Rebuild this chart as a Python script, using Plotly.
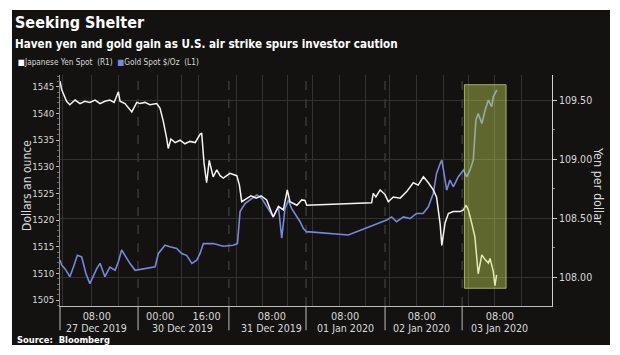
import plotly.graph_objects as go

# ---------------- data (x = trading-session hours from chart start) ----------------
yen_hours = [0.0, 0.5, 2.0, 3.0, 4.6, 6.1, 7.6, 9.1, 10.7, 12.2, 13.7, 15.2, 16.5, 17.8, 18.3,
             19.8, 21.9, 23.4, 24.4, 25.9, 27.4, 29.5, 30.5, 31.5, 32.5, 33.0, 33.8, 35.1, 36.6,
             38.1, 39.6, 41.2, 42.7, 43.2, 43.9, 44.7, 45.5, 46.7, 47.8, 48.8, 49.8, 51.8, 53.9,
             54.7, 55.4, 56.9, 58.2, 59.8, 61.3, 63.0, 65.0, 66.6, 68.1, 69.3, 70.1, 72.2, 73.7,
             74.7, 75.2, 95.0, 95.5, 96.3, 97.6, 99.1, 100.1, 101.6, 103.7, 105.7, 107.7, 109.2,
             110.8, 112.3, 113.8, 114.8, 115.9, 116.4, 117.4, 118.4, 119.9, 122.0, 123.0, 123.8,
             124.5, 125.5, 126.5, 127.5, 128.6, 129.6, 130.6, 131.1, 132.1, 132.6, 133.1]
yen = [109.66, 109.59, 109.49, 109.46, 109.50, 109.47, 109.49, 109.48, 109.50, 109.47, 109.49,
       109.50, 109.48, 109.57, 109.49, 109.47, 109.40, 109.48, 109.47, 109.48, 109.46, 109.47,
       109.43, 109.32, 109.18, 109.09, 109.17, 109.14, 109.16, 109.13, 109.15, 109.14, 109.21,
       109.22, 108.97, 108.80, 108.99, 108.85, 108.91, 108.86, 108.84, 108.88, 108.86, 108.78,
       108.64, 108.67, 108.69, 108.67, 108.69, 108.655, 108.51, 108.60, 108.57, 108.74, 108.64,
       108.61, 108.655, 108.65, 108.61, 108.63, 108.71, 108.68, 108.74, 108.70, 108.64, 108.68,
       108.67, 108.725, 108.80, 108.78, 108.85, 108.80, 108.74, 108.68, 108.45, 108.27, 108.46,
       108.54, 108.556, 108.556, 108.57, 108.61, 108.57, 108.46, 108.34, 108.03, 108.19, 108.15,
       108.12, 108.16, 108.05, 107.93, 108.02]

gold_hours = [0.0, 0.5, 1.5, 3.0, 4.1, 5.3, 6.6, 7.9, 9.1, 10.0, 11.2, 12.2, 13.7, 15.2, 16.8,
              17.8, 18.8, 19.8, 21.3, 22.9, 24.4, 29.0, 30.0, 32.0, 33.5, 35.6, 37.1, 38.6, 40.2,
              41.7, 42.7, 43.7, 45.2, 46.7, 49.8, 52.8, 54.1, 54.9, 56.4, 57.9, 60.0, 61.5, 62.5,
              64.0, 65.0, 66.6, 67.6, 68.6, 69.6, 70.6, 72.2, 73.2, 74.2, 75.2, 76.2, 87.9, 99.6,
              101.1, 102.6, 104.7, 106.7, 108.7, 110.7, 112.3, 113.8, 114.8, 115.9, 116.4, 116.9,
              117.9, 118.9, 119.9, 121.4, 123.0, 124.0, 125.0, 126.0, 126.8, 127.5, 128.6, 129.6,
              130.6, 131.6, 132.1, 133.2]
gold = [1512.5, 1511.6, 1510.9, 1509.4, 1511.2, 1513.4, 1513.1, 1510.0, 1508.1, 1509.4, 1510.9,
        1511.9, 1509.4, 1511.2, 1510.6, 1512.2, 1514.4, 1513.4, 1511.9, 1510.6, 1510.75, 1511.25,
        1513.75, 1515.3, 1515.0, 1514.7, 1513.75, 1513.4, 1511.9, 1512.5, 1513.75, 1515.6, 1515.6,
        1515.6, 1515.1, 1515.3, 1515.6, 1521.6, 1523.1, 1523.75, 1524.7, 1524.1, 1523.1, 1521.6,
        1520.6, 1522.5, 1516.6, 1522.2, 1523.75, 1522.2, 1520.6, 1519.7, 1518.4, 1517.8, 1517.8,
        1517.2, 1520.0, 1520.6, 1519.7, 1520.6, 1520.3, 1521.25, 1521.25, 1522.5, 1525.0, 1528.75,
        1530.6, 1531.25, 1529.4, 1525.6, 1527.5, 1526.25, 1528.1, 1529.4, 1528.1, 1529.4, 1531.25,
        1538.75, 1540.0, 1538.1, 1540.6, 1542.5, 1541.25, 1543.1, 1544.4]

# x-axis ticks
time_tick_pos = [11.2, 30.5, 44.7, 64.6, 86.9, 110.3, 134.1]
time_tick_text = ["08:00", "00:00", "16:00", "08:00", "08:00", "08:00", "08:00"]
date_label_pos = [11.2, 37.2, 64.6, 86.9, 110.3, 134.1]
date_labels = ["27 Dec 2019", "30 Dec 2019", "31 Dec 2019", "01 Jan 2020", "02 Jan 2020", "03 Jan 2020"]
day_separators = [23.8, 51.5, 75.0, 99.1, 122.6]
vgrid_pos = [0.9, 9.7, 17.7, 29.6, 37.1, 42.1, 53.9, 61.6, 69.5, 77.1, 85.1, 93.0, 100.6,
             108.7, 116.8, 124.4, 132.6, 140.8]
gold_ticks = [1505, 1510, 1515, 1520, 1525, 1530, 1535, 1540, 1545]
yen_ticks = [108.00, 108.50, 109.00, 109.50]
highlight_x = [123.3, 136.0]
highlight_yen = [107.907, 109.63]

NARROW = "Liberation Sans Narrow, Arial Narrow, DejaVu Sans Condensed, Roboto, sans-serif"
BG = "#141210"
TXT = "#d9d9d9"
GRID = "#343230"

fig = go.Figure()
fig.add_trace(go.Scatter(x=gold_hours, y=gold, mode="lines", name="Gold Spot $/Oz (L1)",
                         line=dict(color="#7488dc", width=1.6), yaxis="y"))
fig.add_trace(go.Scatter(x=yen_hours, y=yen, mode="lines", name="Japanese Yen Spot (R1)",
                         line=dict(color="#f4f4f4", width=1.5), yaxis="y2"))

shapes = []
# black card background
shapes.append(dict(type="rect", xref="paper", yref="paper", x0=-0.0976, x1=1.1179,
                   y0=-0.1688, y1=1.2814, fillcolor=BG, line=dict(width=0), layer="below"))
# dashed day separators + separator ticks in label zone
for s in day_separators:
    shapes.append(dict(type="line", xref="x", yref="paper", x0=s, x1=s, y0=0, y1=1,
                       line=dict(color="#4e4b49", width=1, dash="dash"), layer="below"))
    shapes.append(dict(type="line", xref="x", yref="paper", x0=s, x1=s, y0=0, y1=-0.105,
                       line=dict(color="#bdbdbd", width=1)))
shapes.append(dict(type="line", xref="paper", yref="paper", x0=0, x1=0, y0=0, y1=-0.105,
                   line=dict(color="#bdbdbd", width=1)))
# highlight box
shapes.append(dict(type="rect", xref="x", yref="y2", x0=highlight_x[0], x1=highlight_x[1],
                   y0=highlight_yen[0], y1=highlight_yen[1], fillcolor="rgba(200,222,90,0.42)",
                   line=dict(color="rgba(190,205,110,0.8)", width=1), layer="above"))

annotations = [
    dict(text="<b>Seeking Shelter</b>", xref="paper", yref="paper", x=-0.0955, y=1.229,
         xanchor="left", yanchor="middle", showarrow=False,
         font=dict(family=NARROW, size=16, color="#ffffff")),
    dict(text="<b>Haven yen and gold gain as U.S. air strike spurs investor caution</b>",
         xref="paper", yref="paper", x=-0.0955, y=1.134, xanchor="left", yanchor="middle",
         showarrow=False, font=dict(family=NARROW, size=11.6, color="#ffffff")),
    dict(text="<span style='color:#ffffff'>■</span>Japanese Yen Spot  (R1)  "
              "<span style='color:#7488dc'>■</span>Gold Spot $/Oz  (L1)",
         xref="paper", yref="paper", x=-0.0894, y=1.056, xanchor="left", yanchor="middle",
         showarrow=False, font=dict(family=NARROW, size=8.2, color=TXT)),
    dict(text="<b>Source:  Bloomberg</b>", xref="paper", yref="paper", x=-0.0915, y=-0.143,
         xanchor="left", yanchor="middle", showarrow=False,
         font=dict(family=NARROW, size=9.3, color="#ffffff")),
    dict(text="Dollars an ounce", xref="paper", yref="paper", x=-0.067, y=0.52,
         xanchor="center", yanchor="middle", textangle=-90, showarrow=False,
         font=dict(family=NARROW, size=12, color=TXT)),
    dict(text="Yen per dollar", xref="paper", yref="paper", x=1.0935, y=0.52,
         xanchor="center", yanchor="middle", textangle=90, showarrow=False,
         font=dict(family=NARROW, size=12.5, color=TXT)),
]
for p, lab in zip(date_label_pos, date_labels):
    annotations.append(dict(text=lab, xref="x", yref="paper", x=p, y=-0.095,
                            xanchor="center", yanchor="middle", showarrow=False,
                            font=dict(family=NARROW, size=10.6, color=TXT)))

fig.update_layout(
    width=604, height=339,
    margin=dict(l=52, r=60, t=67, b=41),
    paper_bgcolor="#ffffff", plot_bgcolor="rgba(0,0,0,0)",
    showlegend=False,
    shapes=shapes, annotations=annotations,
    xaxis=dict(range=[0, 150], tickmode="array", tickvals=time_tick_pos, ticktext=time_tick_text,
               tickfont=dict(family=NARROW, size=10.9, color=TXT), ticks="", showgrid=False,
               zeroline=False, showline=True, linecolor="#bdbdbd", linewidth=1,
               minor=dict(tickmode="array", tickvals=vgrid_pos, showgrid=True,
                          gridcolor=GRID, gridwidth=1)),
    yaxis=dict(range=[1503.9, 1547.2], tickmode="array", tickvals=gold_ticks,
               tickfont=dict(family=NARROW, size=9.5, color=TXT), showgrid=False,
               zeroline=False, showline=True, linecolor="#8a8a8a", ticks="outside",
               ticklen=3, tickcolor="#bdbdbd",
               minor=dict(ticks="outside", ticklen=2, dtick=1, tickcolor="#6a6a6a")),
    yaxis2=dict(range=[107.757, 109.712], overlaying="y", side="right", tickmode="array",
                tickvals=yen_ticks, tickformat=".2f",
                tickfont=dict(family=NARROW, size=10.5, color=TXT), showgrid=True,
                gridcolor=GRID, zeroline=False, showline=True, linecolor="#d0d0d0",
                ticks="outside", ticklen=4, tickcolor="#d0d0d0",
                minor=dict(ticks="outside", ticklen=2, dtick=0.25, tickcolor="#8a8a8a")),
)

fig.write_html("out.html")
